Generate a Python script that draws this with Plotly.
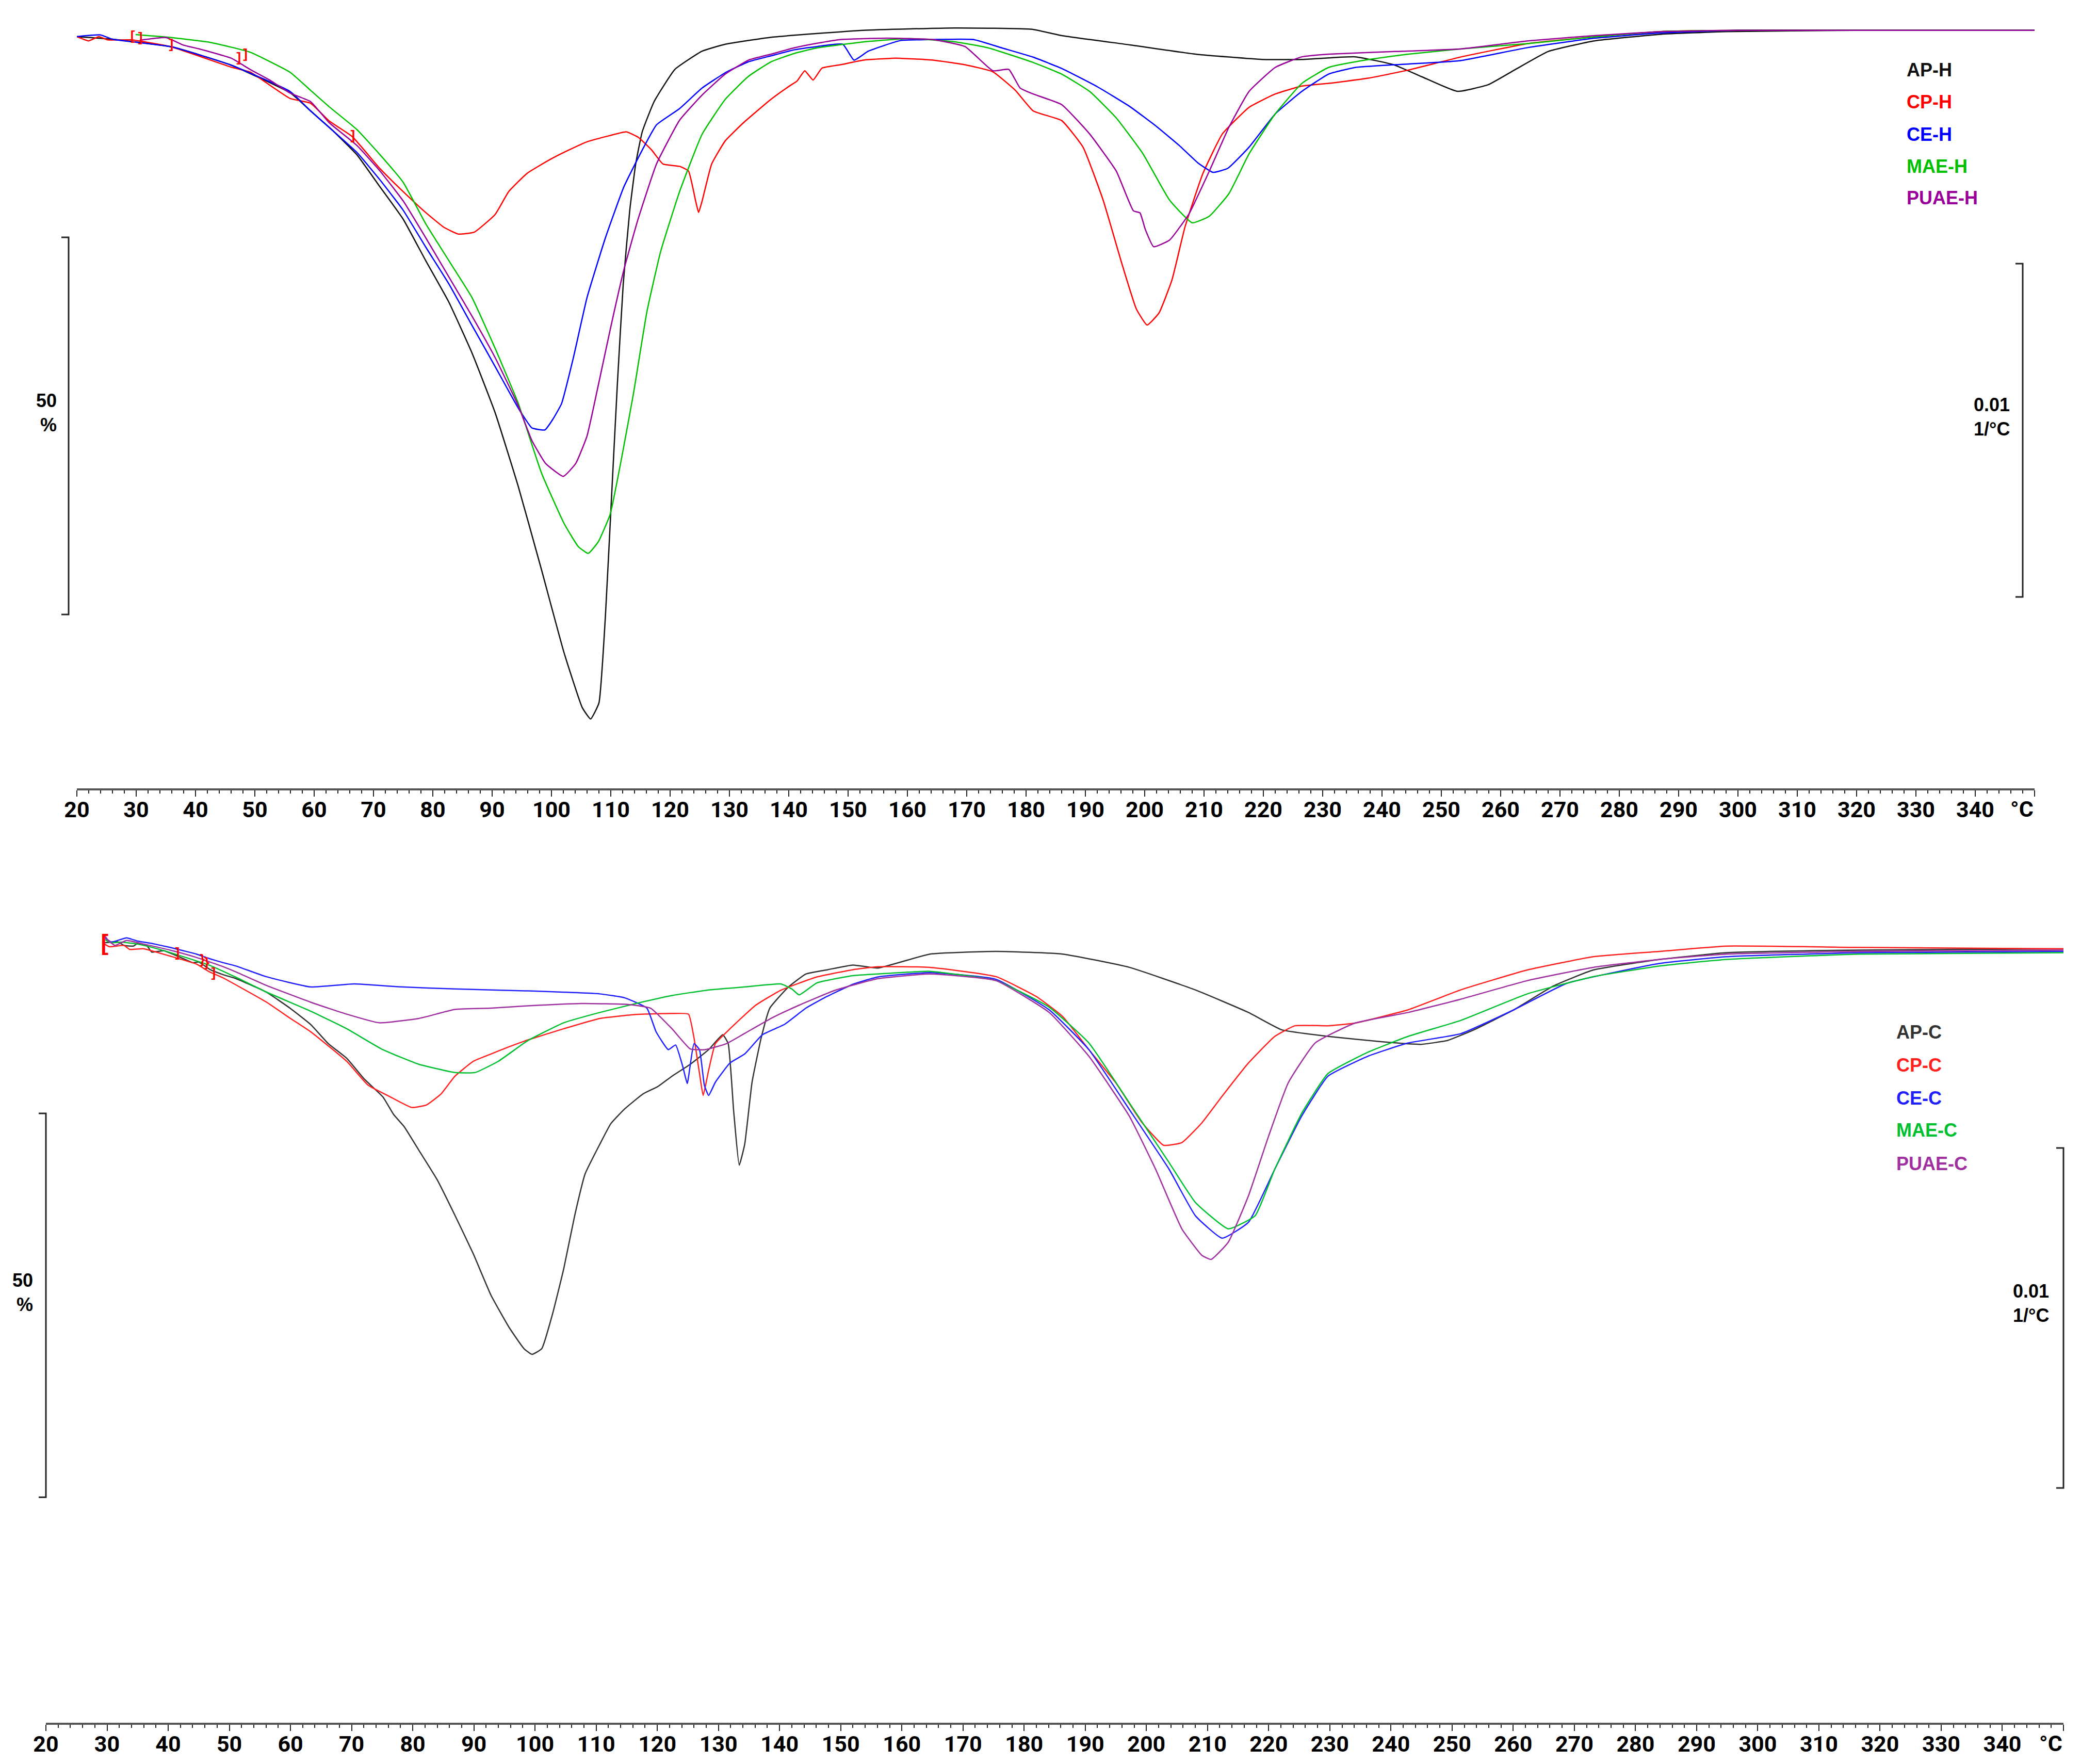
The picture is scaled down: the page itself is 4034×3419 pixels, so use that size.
import plotly.graph_objects as go

# Curvas DTG: temperatura (°C) e DTG (10^-3 1/°C)
# Painel superior: aquecimento (H)
ap_h_t = [20, 26, 36, 46, 56, 59.4, 63, 67.2, 71.1, 75, 78.8, 82.7, 86.6, 90.5, 94.4, 98.3, 102.1, 105.2,
          106.6, 108, 109.1, 110.1, 111.1, 112.1, 113.2, 114.2, 115.3, 117.3, 120.8, 125.4, 129.3, 137,
          152.6, 168, 181, 186, 197.5, 208.6, 219.8, 226.5, 235.5, 242, 246.7, 252.7, 257.9, 262.3, 268,
          275.8, 287, 298, 320, 350]
ap_h_v = [-0.19, -0.27, -0.50, -1.05, -1.89, -2.43, -3.0, -3.75, -4.72, -5.69, -6.94, -8.19, -9.72, -11.52,
          -13.74, -16.24, -18.74, -20.41, -20.75, -20.27, -17.63, -14.16, -10.69, -7.64, -5.42, -4.03, -3.06,
          -2.15, -1.18, -0.63, -0.42, -0.21, 0.0, 0.07, 0.03, -0.16, -0.44, -0.72, -0.88, -0.88, -0.80, -1.04,
          -1.40, -1.84, -1.64, -1.20, -0.64, -0.32, -0.12, -0.04, 0.0, 0.0]

cp_h_t = [20, 22, 23.7, 25.2, 29.2, 35.9, 46, 49.2, 55.9, 59.4, 62.5, 66.4, 71.1, 75, 78.8, 81.9, 84.3, 87,
          90.5, 92.8, 95.9, 99.8, 102.9, 106, 109.9, 112.6, 114.6, 116.9, 118.8, 121.6, 123.1, 124.3, 124.8,
          125.4, 127, 129.3, 132.4, 137, 140.2, 141.4, 142.7, 144.1, 145.6, 148.7, 152.6, 158, 164.3, 169.7,
          174.4, 178.2, 181.2, 186, 189.6, 193, 196.3, 198.6, 200.4, 202.4, 204.6, 206.8, 209.8, 213.1,
          217.6, 222, 226.5, 231, 237.8, 244.4, 253.4, 264.6, 275.8, 287, 300, 320, 350]
cp_h_v = [-0.19, -0.32, -0.19, -0.29, -0.29, -0.50, -1.11, -1.26, -2.05, -2.2, -2.73, -3.2, -4.17, -4.86,
          -5.49, -5.94, -6.14, -6.08, -5.55, -4.86, -4.31, -3.89, -3.61, -3.36, -3.17, -3.06, -3.22, -3.61,
          -4.03, -4.10, -4.24, -5.14, -5.49, -5.14, -4.03, -3.33, -2.78, -2.08, -1.67, -1.53, -1.22, -1.50,
          -1.14, -1.04, -0.90, -0.84, -0.90, -1.04, -1.25, -1.81, -2.43, -2.72, -3.52, -5.12, -7.12, -8.4,
          -8.88, -8.52, -7.52, -5.92, -4.32, -3.12, -2.32, -1.92, -1.68, -1.6, -1.44, -1.2, -0.8, -0.4,
          -0.2, -0.04, 0.0, 0.0, 0.0]

ce_h_t = [20, 24, 26, 36, 46, 56, 59.4, 67.2, 71.1, 75, 78.8, 82.7, 86.6, 90.5, 94.4, 96.7, 98.9, 100.2,
          101.7, 103.7, 106, 109.1, 112.2, 115.3, 117.7, 121.6, 125.4, 129.3, 133.2, 137, 140.9, 144.8,
          149.1, 151, 153.4, 158.8, 164.3, 171.2, 175.9, 181.2, 186, 192, 197.5, 202, 206, 209, 211.5, 214,
          217.6, 222, 226.5, 231, 235.5, 242, 253, 264.6, 275.8, 287, 300, 350]
ce_h_v = [-0.19, -0.14, -0.27, -0.50, -1.05, -1.85, -2.43, -3.68, -4.51, -5.42, -6.53, -7.64, -8.89,
          -10.13, -11.38, -11.98, -12.04, -11.73, -11.25, -9.86, -8.05, -6.25, -4.72, -3.61, -2.85, -2.36,
          -1.74, -1.28, -0.95, -0.77, -0.59, -0.49, -0.42, -0.90, -0.63, -0.31, -0.28, -0.28, -0.53, -0.81,
          -1.15, -1.7, -2.3, -2.9, -3.5, -4.0, -4.28, -4.16, -3.52, -2.52, -1.84, -1.32, -1.12, -1.04,
          -0.92, -0.52, -0.24, -0.08, 0.0, 0.0]

mae_h_t = [29.9, 35.9, 42.6, 49.2, 55.9, 59.4, 62.5, 67.2, 71.1, 75, 78.8, 82.7, 86.6, 90.5, 94.4, 98.3,
           102.1, 104.5, 106.2, 107.9, 109.9, 111.8, 113.8, 116.1, 118.4, 121.6, 125.4, 129.3, 133.2, 137,
           140.9, 144.8, 152.6, 160.4, 168.1, 173.6, 181.2, 186, 190.7, 195.2, 199.7, 204.2, 208, 210.9,
           214.2, 217.6, 222, 226.5, 231, 237.8, 244.4, 253.4, 264.6, 275.8, 287, 300, 350]
mae_h_v = [-0.13, -0.22, -0.37, -0.66, -1.26, -1.81, -2.3, -2.99, -3.75, -4.58, -5.83, -6.94, -8.05, -9.58,
           -11.24, -13.33, -14.85, -15.55, -15.76, -15.41, -14.58, -12.91, -10.97, -8.47, -6.67, -4.86,
           -3.13, -2.08, -1.39, -0.95, -0.70, -0.53, -0.35, -0.25, -0.35, -0.53, -0.97, -1.32, -1.84, -2.64,
           -3.72, -5.12, -5.8, -5.6, -4.92, -3.72, -2.52, -1.6, -1.12, -0.88, -0.72, -0.56, -0.4, -0.2,
           -0.04, 0.0, 0.0]

puae_h_t = [30.6, 35, 38, 40.6, 46, 49.2, 52.5, 55.9, 59.4, 62.5, 67.2, 71.1, 75, 78.8, 82.7, 86.6, 90.5,
            94.4, 96.7, 99, 102, 104.1, 106, 107.9, 109.9, 112.2, 114.6, 117.7, 121.6, 125.4, 129.3, 133.2,
            137, 140.9, 144.8, 148.7, 156.5, 164.3, 169.7, 174.4, 177.1, 179, 181.2, 186, 190.7, 195.2,
            198.1, 199.2, 200.1, 201.5, 204.2, 207.5, 210.9, 214.2, 217.6, 222, 226.5, 231, 242.2, 253.4,
            264.6, 275.8, 287, 300, 350]
puae_h_v = [-0.30, -0.22, -0.45, -0.56, -0.84, -1.18, -1.5, -1.89, -2.15, -2.78, -3.47, -4.24, -5.14,
            -6.25, -7.43, -8.61, -9.86, -11.31, -12.36, -13.05, -13.44, -13.05, -12.22, -10.69, -9.02,
            -7.22, -5.69, -4.03, -2.71, -1.95, -1.32, -0.90, -0.72, -0.53, -0.39, -0.28, -0.24, -0.28,
            -0.49, -1.22, -1.18, -1.74, -1.92, -2.24, -3.12, -4.24, -5.44, -5.5, -6.0, -6.52, -6.32, -5.52,
            -4.24, -2.92, -1.84, -1.12, -0.8, -0.72, -0.64, -0.56, -0.32, -0.16, -0.04, 0.0, 0.0]

# Painel inferior: resfriamento/ciclo (C)
ap_c_t = [29.6, 31.7, 32.8, 34.3, 35, 36.5, 37.3, 39.3, 42.5, 44, 45, 46.8, 49, 51.1, 56, 60, 63.3, 66.2,
          69.2, 72.1, 75.1, 76.9, 78.6, 81, 84, 86.9, 89.9, 92.8, 95.8, 98.2, 99.5, 101.1, 102.9, 104.7,
          106.5, 108.2, 110.6, 112.4, 114.7, 117.7, 120.1, 122.4, 125.4, 128.4, 130.7, 131.6, 132.5, 133.4,
          134.3, 135.5, 137, 138.4, 141.4, 144.3, 147.9, 152, 156.1, 164.6, 175.4, 186.3, 197.2, 208,
          216.7, 222.1, 229.7, 238.4, 244.9, 249.3, 253.6, 260.1, 266.6, 273.1, 284, 294.9, 316.6, 350]
ap_c_v = [0.18, 0.21, 0.10, 0.08, 0.16, 0.10, -0.10, -0.06, -0.30, -0.42, -0.40, -0.62, -0.78, -0.90,
          -1.3, -1.8, -2.28, -2.86, -3.30, -3.93, -4.46, -5.0, -5.36, -6.07, -6.96, -8.03, -9.19, -10.44,
          -11.42, -12.05, -12.22, -12.05, -10.98, -9.64, -8.03, -6.78, -5.89, -5.27, -4.82, -4.37, -4.15,
          -3.84, -3.48, -3.04, -2.59, -2.86, -4.91, -6.52, -5.89, -4.02, -2.68, -1.79, -1.16, -0.76, -0.63,
          -0.49, -0.58, -0.16, -0.08, -0.16, -0.56, -1.24, -1.92, -2.44, -2.64, -2.8, -2.88, -2.76, -2.44,
          -1.84, -1.12, -0.64, -0.32, -0.12, -0.04, 0.0]

cp_c_t = [29.6, 30.4, 32.8, 33.7, 36, 40.3, 44.6, 46.8, 49, 56, 60, 63.3, 69.2, 72.7, 76.3, 79.8, 82.2,
          84.6, 86.9, 89.9, 92.8, 95.8, 98.8, 104.7, 110.6, 116.5, 122.4, 125.1, 126, 126.9, 127.5, 128.4,
          129.5, 131.9, 136.1, 140.2, 146.1, 152, 156.1, 164.6, 175.4, 182, 186.3, 190.6, 195, 199.3, 202.8,
          205.8, 209.1, 212.4, 216.7, 221, 224.3, 229.7, 234.1, 242.8, 251.4, 262.3, 273.1, 284, 294.9,
          316.6, 350]
cp_c_v = [0.14, 0.06, 0.10, -0.02, 0.0, -0.22, -0.46, -0.70, -0.88, -1.6, -2.1, -2.50, -3.39, -4.11,
          -4.46, -4.78, -4.71, -4.38, -3.84, -3.39, -3.17, -2.95, -2.75, -2.41, -2.10, -1.98, -1.95, -1.97,
          -2.68, -3.75, -4.42, -3.66, -2.86, -2.41, -1.70, -1.25, -0.85, -0.63, -0.54, -0.56, -0.84, -1.44,
          -2.04, -3.04, -4.04, -5.24, -5.92, -5.84, -5.24, -4.44, -3.44, -2.64, -2.32, -2.32, -2.24, -1.84,
          -1.24, -0.64, -0.24, -0.08, 0.08, 0.04, 0.0]

ce_c_t = [29.6, 30.7, 33.2, 35, 37.3, 40.3, 42.5, 44.6, 46.8, 49, 51.1, 56, 63.3, 70.4, 78.1, 86.9, 98.8,
          110.6, 114.7, 118.3, 119.8, 121.8, 123, 124.2, 124.9, 126, 126.9, 127.7, 128.4, 129.5, 131.9,
          134.3, 137.2, 140.8, 144.3, 147.3, 152, 156.1, 164.6, 175.4, 184.1, 190.6, 197.2, 203.7, 208,
          212.4, 216.7, 221, 225.4, 229.7, 236.2, 242.8, 251.4, 260.1, 268.8, 284, 294.9, 316.6, 350]
ce_c_v = [0.34, 0.20, 0.33, 0.23, 0.16, 0.04, -0.06, -0.16, -0.30, -0.42, -0.52, -0.84, -1.15, -1.06,
          -1.15, -1.21, -1.27, -1.36, -1.48, -1.79, -2.5, -3.04, -2.90, -3.57, -4.06, -2.86, -3.04, -4.11,
          -4.42, -4.02, -3.44, -3.17, -2.59, -2.28, -1.79, -1.48, -1.07, -0.85, -0.72, -0.92, -1.84, -3.04,
          -4.84, -6.64, -8.04, -8.72, -8.24, -6.64, -5.04, -3.84, -3.24, -2.84, -2.56, -1.84, -1.04, -0.44,
          -0.24, -0.12, -0.08]

mae_c_t = [29.6, 30.7, 32.4, 35, 38.2, 42.5, 46.8, 51.1, 56, 63.3, 69.2, 75.1, 81, 86.9, 90.2, 94, 98.8,
           104.7, 110.6, 116.5, 122.4, 128.4, 134.3, 140.2, 142, 143.2, 146.1, 152, 156.1, 164.6, 175.4,
           184.1, 190.6, 197.2, 203.7, 208, 213.4, 217.8, 221, 225.4, 229.7, 236.2, 242.8, 251.4, 262.3,
           273.1, 284, 294.9, 316.6, 350]
mae_c_v = [0.28, 0.18, 0.20, 0.14, 0.0, -0.24, -0.50, -0.86, -1.3, -1.88, -2.41, -3.04, -3.48, -3.73,
           -3.73, -3.39, -2.77, -2.23, -1.92, -1.65, -1.41, -1.24, -1.15, -1.06, -1.21, -1.39, -1.03, -0.81,
           -0.76, -0.68, -0.96, -1.76, -2.84, -4.64, -6.44, -7.64, -8.44, -8.04, -6.64, -4.96, -3.76, -3.12,
           -2.64, -2.16, -1.36, -0.84, -0.52, -0.32, -0.16, -0.12]

puae_c_t = [29.6, 30.2, 31.3, 33.2, 36, 40.3, 44.6, 49, 51.1, 56, 63.3, 69.2, 74.5, 81, 86.9, 92.8, 98.8,
            107.6, 115.3, 118.9, 122.4, 125.4, 127.8, 131.3, 134.3, 139, 143.2, 149.1, 156.1, 164.6, 175.4,
            184.1, 190.6, 197.2, 201.5, 205.8, 209.1, 210.6, 213.4, 216.7, 220, 223.2, 227.6, 234.1, 242.8,
            251.4, 262.3, 273.1, 284, 294.9, 316.6, 350]
puae_c_v = [0.40, 0.25, 0.10, 0.25, 0.14, -0.04, -0.26, -0.54, -0.70, -1.1, -1.61, -1.97, -2.23, -2.10,
            -1.83, -1.79, -1.72, -1.65, -1.68, -1.79, -2.41, -3.02, -3.04, -2.86, -2.55, -2.06, -1.70, -1.25,
            -0.90, -0.76, -0.96, -1.92, -3.24, -5.04, -6.64, -8.44, -9.24, -9.36, -8.84, -7.44, -5.64, -4.04,
            -2.84, -2.24, -1.92, -1.52, -0.96, -0.56, -0.32, -0.16, -0.08, -0.04]

# Marcadores de integração (colchetes vermelhos)
marks_h_t = [19.8, 29.4, 30.7, 35.9, 47.3, 48.4, 66.5]
marks_h_v = [-0.16, -0.2, -0.24, -0.45, -0.85, -0.75, -3.2]
marks_h_txt = ["[", "[", "]", "]", "]", "]", "]"]
marks_c_t = [29.6, 41.5, 45.6, 46.3, 47.4]
marks_c_v = [0.12, -0.15, -0.35, -0.45, -0.75]
marks_c_txt = ["[", "]", "}", "}", "]"]

temps = list(range(20, 351, 10))
temp_labels = [str(t) for t in temps[:-1]] + [""]

W, H = 4034, 3419
DX, DY = -6, -6   # pequeno ajuste global de posição
NARROW = "Liberation Sans Narrow, Arial Narrow, Roboto, sans-serif"
SANS = "Liberation Sans, Arial, sans-serif"


def px(x):
    return (x + DX) / W


def py(y):
    return 1 - (y + DY) / H


fig = go.Figure()

top = [("AP-H", ap_h_t, ap_h_v, "#111111"), ("CP-H", cp_h_t, cp_h_v, "#ff0000"),
       ("CE-H", ce_h_t, ce_h_v, "#0000ff"), ("MAE-H", mae_h_t, mae_h_v, "#00c000"),
       ("PUAE-H", puae_h_t, puae_h_v, "#990099")]
bottom = [("AP-C", ap_c_t, ap_c_v, "#333333"), ("CP-C", cp_c_t, cp_c_v, "#ff2020"),
          ("CE-C", ce_c_t, ce_c_v, "#2020ff"), ("MAE-C", mae_c_t, mae_c_v, "#00c030"),
          ("PUAE-C", puae_c_t, puae_c_v, "#a030a0")]

for name, t, v, c in top:
    fig.add_trace(go.Scatter(x=t, y=v, mode="lines", name=name,
                             line=dict(color=c, width=2.5, shape="spline", smoothing=0.4),
                             xaxis="x", yaxis="y"))
for name, t, v, c in bottom:
    fig.add_trace(go.Scatter(x=t, y=v, mode="lines", name=name,
                             line=dict(color=c, width=2.5, shape="spline", smoothing=0.4),
                             xaxis="x2", yaxis="y2"))

fig.add_trace(go.Scatter(x=marks_h_t, y=marks_h_v, mode="text", text=marks_h_txt, cliponaxis=False,
                         textfont=dict(family=SANS, size=26, color="#ff0000", weight="bold"),
                         xaxis="x", yaxis="y"))
fig.add_trace(go.Scatter(x=marks_c_t, y=marks_c_v, mode="text", text=marks_c_txt, cliponaxis=False,
                         textfont=dict(family=SANS, size=[44, 26, 26, 26, 26], color="#ff0000",
                                       weight="bold"),
                         xaxis="x2", yaxis="y2"))

xbase = dict(range=[20, 350], tickmode="array", tickvals=temps, ticktext=temp_labels,
             ticks="outside", ticklen=12, tickwidth=2, tickcolor="#222", automargin=False,
             ticklabelstandoff=-12,
             minor=dict(tick0=20, dtick=2, ticks="outside", ticklen=6, tickwidth=1.5, tickcolor="#222"),
             showline=True, linecolor="#555", linewidth=4, showgrid=False, zeroline=False,
             tickfont=dict(family=NARROW, size=43, color="black", weight="bold"))

fig.update_layout(
    width=W, height=H, margin=dict(l=0, r=0, t=0, b=0, autoexpand=False),
    paper_bgcolor="white", plot_bgcolor="white", showlegend=False,
    xaxis=dict(xbase, domain=[px(147), px(3942)], anchor="y"),
    yaxis=dict(domain=[py(1526), py(20)], range=[-22.84, 0.57], visible=False),
    xaxis2=dict(xbase, domain=[px(87), px(3998)], anchor="y2"),
    yaxis2=dict(domain=[py(3337), py(1788)], range=[-23.32, 0.76], visible=False),
)

# unidade °C no fim de cada eixo
for xr, yline in (("x", 1526), ("x2", 3337)):
    fig.add_annotation(text="°C", x=350, xref=xr, y=py(yline + 40), yref="paper", showarrow=False,
                       xanchor="right", yanchor="middle",
                       font=dict(family=NARROW, size=43, color="black", weight="bold"))

# barras de escala (50 % e 0.01 1/°C)
bars = [(131, 458, 1189), (3919, 509, 1155), (87, 2156, 2900), (3998, 2223, 2882)]
for x, y0, y1 in bars:
    path = (f"M {px(x - 14)},{py(y0)} L {px(x)},{py(y0)} L {px(x)},{py(y1)} "
            f"L {px(x - 14)},{py(y1)}")
    fig.add_shape(type="path", path=path, xref="paper", yref="paper",
                  line=dict(color="#222", width=3))

labels = [("50<br>%", 110, 798, "right"), ("0.01<br>1/°C", 3822, 806, "left"),
          ("50<br>%", 64, 2503, "right"), ("0.01<br>1/°C", 3898, 2524, "left")]
for txt, x, y, anc in labels:
    fig.add_annotation(text=txt, x=px(x), y=py(y), xref="paper", yref="paper", showarrow=False,
                       xanchor=anc, yanchor="middle", align=anc,
                       font=dict(family=SANS, size=36, color="black", weight="bold"))

# legendas como texto colorido
leg_top_y = [134, 196, 258, 320, 381]
leg_bot_y = [1998, 2062, 2126, 2188, 2253]
for (name, _, _, c), y in zip(top, leg_top_y):
    fig.add_annotation(text=name, x=px(3692), y=py(y), xref="paper", yref="paper", showarrow=False,
                       xanchor="left", yanchor="middle",
                       font=dict(family=SANS, size=36, color=c, weight="bold"))
for (name, _, _, c), y in zip(bottom, leg_bot_y):
    fig.add_annotation(text=name, x=px(3672), y=py(y), xref="paper", yref="paper", showarrow=False,
                       xanchor="left", yanchor="middle",
                       font=dict(family=SANS, size=36, color=c, weight="bold"))

fig.write_html("out.html")
